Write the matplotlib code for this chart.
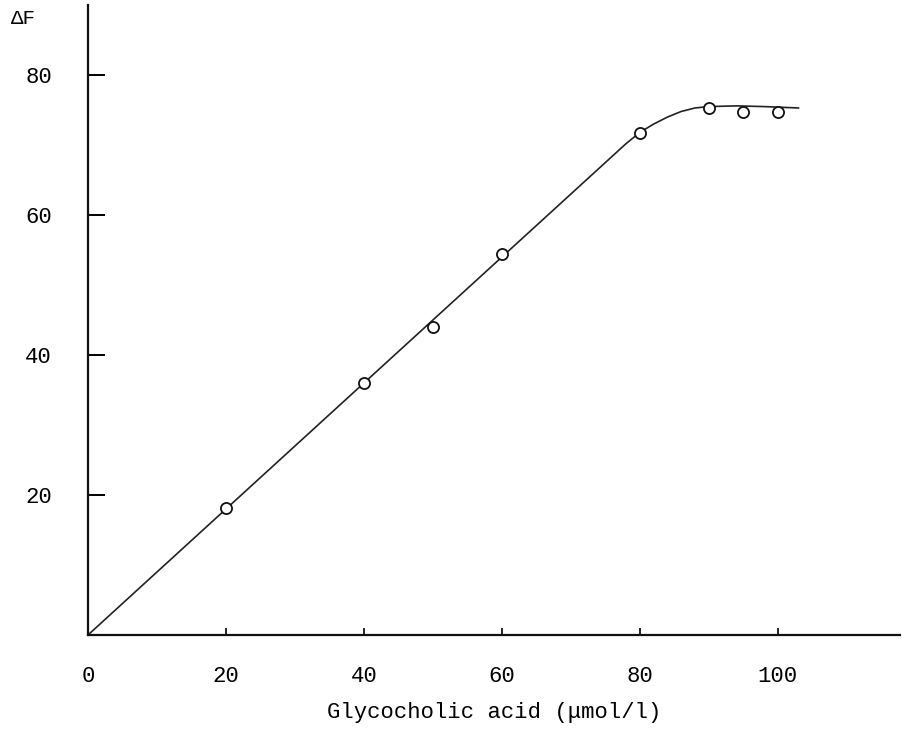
import matplotlib
matplotlib.use('agg')
import matplotlib.pyplot as plt

# measured points (open circles)
conc = [20, 40, 50, 60, 80, 90, 95, 100]
delta_f = [18.1, 36.0, 44.0, 54.5, 71.7, 75.3, 74.7, 74.7]

# hand drawn curve
curve_x = [0, 78, 80, 82, 84, 86, 88, 90, 94, 98, 103]
curve_y = [0, 70.2, 71.8, 73.0, 74.0, 74.8, 75.3, 75.5, 75.6, 75.5, 75.3]

xticks = [0, 20, 40, 60, 80, 100]
yticks = [20, 40, 60, 80]

FONT = 'Liberation Mono'
FS = 16

fig = plt.figure(figsize=(9.02, 7.29), dpi=100)
ax = fig.add_axes([0.0976, 0.129, 0.900, 0.864])

ax.plot(curve_x, curve_y, color='#222222', lw=1.2)
ax.plot(conc, delta_f, 'o', ms=8, mfc='white', mec='#111111', mew=1.3)

ax.set_xlim(0, 117.7)
ax.set_ylim(0, 90)
for side in ('top', 'right'):
    ax.spines[side].set_visible(False)
for side in ('left', 'bottom'):
    ax.spines[side].set_linewidth(1.6)
    ax.spines[side].set_color('#111111')

ax.set_xticks(xticks)
ax.set_yticks(yticks)
ax.set_xticklabels([str(t) for t in xticks], family=FONT, fontsize=FS)
ax.set_yticklabels([str(t) for t in yticks], family=FONT, fontsize=FS)
ax.tick_params(axis='x', direction='in', length=5, width=1.2, pad=22)
ax.tick_params(axis='y', direction='in', length=12, width=1.4, pad=26)

ax.set_xlabel('Glycocholic acid (\u03bcmol/l)', family=FONT, fontsize=FS,
              labelpad=11)
fig.text(0.026, 0.975, '\u0394F', family=FONT, fontsize=FS - 1,
         ha='center', va='center')

plt.savefig('out.png', dpi=100)
